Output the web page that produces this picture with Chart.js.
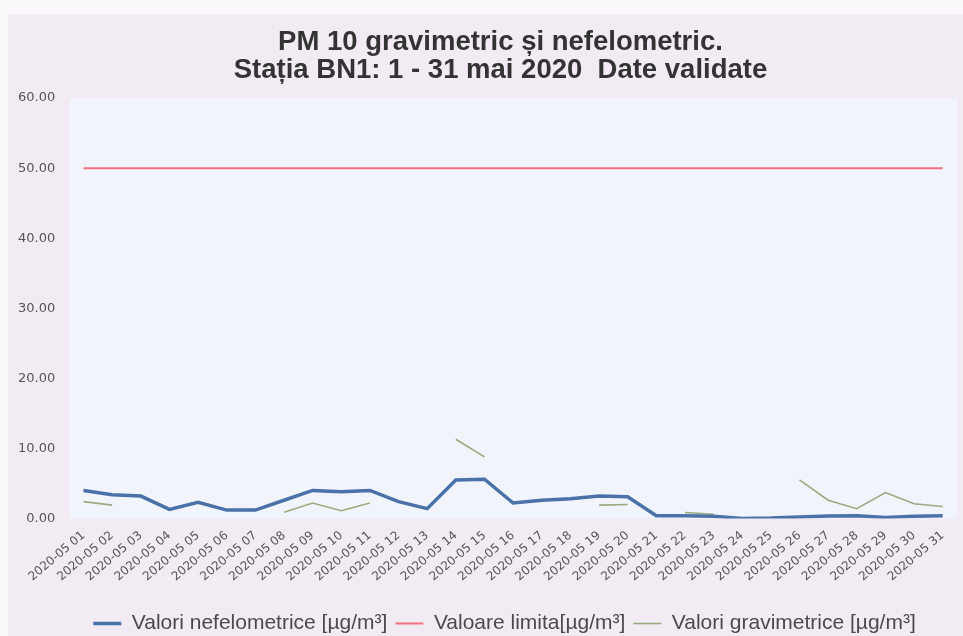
<!DOCTYPE html>
<html>
<head>
<meta charset="utf-8">
<script src="https://cdn.jsdelivr.net/npm/chart.js@4"></script>
<style>
  html, body { margin: 0; padding: 0; background: #ffffff; }
  #wrap { width: 963px; height: 636px; }
</style>
</head>
<body>
<div id="wrap"><canvas id="pm10"></canvas></div>
<script>
// date labels, 1 - 31 mai 2020
const zile = ["01","02","03","04","05","06","07","08","09","10","11","12","13","14","15","16",
  "17","18","19","20","21","22","23","24","25","26","27","28","29","30","31"];
const etichete = zile.map(z => "2020-05 " + z);

// valori nefelometrice [µg/m³]
const nefelometrice = [4.0, 3.4, 3.2, 1.3, 2.3, 1.2, 1.2, 2.6, 4.0, 3.8, 4.0, 2.4, 1.4, 5.5, 5.6, 2.2,
  2.6, 2.8, 3.2, 3.1, 0.4, 0.4, 0.3, 0.0, 0.05, 0.2, 0.35, 0.4, 0.15, 0.3, 0.4];
// valori gravimetrice [µg/m³] (null = lipsa)
const gravimetrice = [2.4, 1.9, null, null, null, null, null, 0.9, 2.2, 1.1, 2.2, null, null, 11.3, 8.8, null,
  null, null, 1.9, 2.0, null, 0.85, 0.6, null, null, 5.5, 2.6, 1.4, 3.7, 2.1, 1.7];
// valoare limita
const limita = etichete.map(() => 50);

const fundal = {
  id: "fundal",
  afterLayout(chart) {
    // titlul si legenda sunt putin deplasate in original
    chart.titleBlock.left += 40;
    chart.legend.left += 48;
    chart.legend.top += 8;
  },
  beforeDraw(chart) {
    const { ctx, chartArea: a } = chart;
    ctx.save();
    ctx.fillStyle = "#fbf9fc";
    ctx.fillRect(0, 0, chart.width, chart.height);
    ctx.fillStyle = "#f2ebf3";
    ctx.fillRect(8, 14, chart.width - 8, chart.height - 14);
    ctx.fillStyle = "#f1f4fb";
    ctx.fillRect(a.left, a.top, a.right - a.left, a.bottom - a.top);
    ctx.restore();
  }
};

new Chart(document.getElementById("pm10"), {
  type: "line",
  data: {
    labels: etichete,
    datasets: [
      {
        label: "Valori nefelometrice [µg/m³]",
        data: nefelometrice,
        borderColor: "#4a72a8",
        backgroundColor: "#4a72a8",
        borderWidth: 3.5,
        pointRadius: 0,
        tension: 0
      },
      {
        label: "Valoare limita[µg/m³]",
        data: limita,
        borderColor: "#f26f7f",
        backgroundColor: "#f26f7f",
        borderWidth: 2,
        pointRadius: 0
      },
      {
        label: "Valori gravimetrice [µg/m³]",
        data: gravimetrice,
        borderColor: "#9aab80",
        backgroundColor: "#9aab80",
        borderWidth: 1.6,
        pointRadius: 0,
        spanGaps: false
      }
    ]
  },
  options: {
    responsive: true,
    maintainAspectRatio: false,
    animation: false,
    layout: { padding: { left: 4, right: 6, top: 28, bottom: 0 } },
    plugins: {
      title: {
        display: true,
        text: ["PM 10 gravimetric și nefelometric.", "Stația BN1: 1 - 31 mai 2020  Date validate"],
        color: "#333333",
        font: { family: "Liberation Sans", size: 27.5, weight: "bold", lineHeight: 1.02 },
        padding: { top: 0, bottom: 14 }
      },
      legend: {
        display: true,
        position: "bottom",
        labels: {
          usePointStyle: true,
          pointStyle: "line",
          pointStyleWidth: 28,
          color: "#4a4a4a",
          font: { family: "Liberation Sans", size: 21 },
          padding: 8
        }
      },
      tooltip: { enabled: false }
    },
    scales: {
      x: {
        offset: true,
        grid: { display: false, drawTicks: false },
        border: { display: false },
        afterFit(scale) {
          scale.paddingLeft = 0;
          scale.paddingRight = 0;
          scale.height += 3;
        },
        ticks: {
          autoSkip: false,
          minRotation: 40,
          maxRotation: 40,
          padding: 10,
          color: "#555555",
          font: { family: "DejaVu Sans", size: 12 }
        }
      },
      y: {
        min: 0,
        max: 60,
        grid: { display: false, drawTicks: false },
        border: { display: false },
        ticks: {
          stepSize: 10,
          padding: 14,
          color: "#555555",
          font: { family: "DejaVu Sans", size: 13 },
          callback: v => v.toFixed(2)
        }
      }
    }
  },
  plugins: [fundal]
});
</script>
</body>
</html>
